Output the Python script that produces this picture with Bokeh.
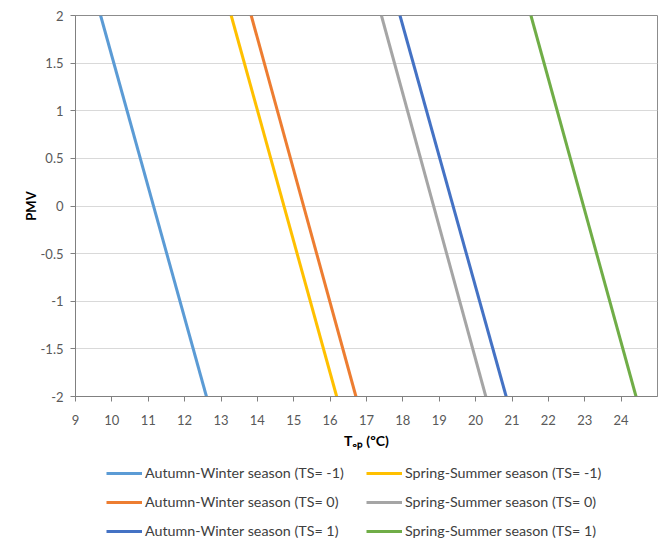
from bokeh.plotting import figure
from bokeh.layouts import column
from bokeh.models import Legend, LegendItem, FixedTicker, Range1d
from bokeh.embed import file_html
from bokeh.resources import INLINE

# ---- data ----
pmv = [2, -2]
aw_m1 = [9.69, 12.60]
aw_0 = [13.83, 16.71]
aw_p1 = [17.92, 20.84]
ss_m1 = [13.28, 16.18]
ss_0 = [17.41, 20.28]
ss_p1 = [21.52, 24.41]

aw_labels = ["Autumn-Winter season (TS= -1)", "Autumn-Winter season (TS= 0)", "Autumn-Winter season (TS= 1)"]
ss_labels = ["Spring-Summer season (TS= -1)", "Spring-Summer season (TS= 0)", "Spring-Summer season (TS= 1)"]
aw_colors = ["#5B9BD5", "#ED7D31", "#4472C4"]
ss_colors = ["#FFC000", "#A5A5A5", "#70AD47"]

x_ticks = list(range(9, 25))
y_ticks = [-2, -1.5, -1, -0.5, 0, 0.5, 1, 1.5, 2]
y_tick_labels = ["-2", "-1.5", "-1", "-0.5", "0", "0.5", "1", "1.5", "2"]

FONT = "Lato"

p = figure(width=658, height=451, output_backend="svg", toolbar_location=None,
           x_range=Range1d(9, 25), y_range=Range1d(-2, 2),
           min_border_left=75, min_border_right=1, min_border_top=15, min_border_bottom=55)
p.background_fill_color = "white"
p.border_fill_color = "white"
p.outline_line_color = "#8C8C8C"
p.outline_line_width = 1

p.xgrid.visible = False
p.ygrid.grid_line_color = "#D9D9D9"
p.ygrid.grid_line_width = 1

p.xaxis.ticker = FixedTicker(ticks=x_ticks)
p.yaxis.ticker = FixedTicker(ticks=y_ticks)
p.yaxis.major_label_overrides = {t: l for t, l in zip(y_ticks, y_tick_labels)}
for ax in (p.xaxis, p.yaxis):
    ax.axis_line_color = "#808080"
    ax.major_tick_line_color = "#808080"
    ax.major_tick_in = 0
    ax.major_tick_out = 5
    ax.minor_tick_line_color = None
    ax.major_label_text_font = FONT
    ax.major_label_text_font_size = "13px"
    ax.major_label_text_color = "#595959"
    ax.axis_label_text_font = FONT
    ax.axis_label_text_font_style = "bold"
    ax.axis_label_text_color = "#000000"
p.xaxis.major_label_standoff = 13
p.yaxis.major_label_standoff = 7

p.yaxis.axis_label = "PMV"
p.yaxis.axis_label_text_font_size = "13px"
p.yaxis.axis_label_standoff = -1

p.xaxis.axis_label = "Tₒₚ (ºC)"
p.xaxis.axis_label_text_font_size = "14px"
p.xaxis.axis_label_standoff = 4

series = [aw_m1, aw_0, aw_p1, ss_m1, ss_0, ss_p1]
colors = aw_colors + ss_colors
for xs, c in zip(series, colors):
    p.line(xs, pmv, line_color=c, line_width=3)

# ---- legend panel (separate figure below the chart; its lines fall outside its view) ----
q = figure(width=658, height=90, output_backend="svg", toolbar_location=None,
           x_axis_type=None, y_axis_type=None, x_range=Range1d(0, 1), y_range=Range1d(0, 1),
           min_border=0)
q.outline_line_color = None
q.grid.visible = False
q.background_fill_color = "white"
q.border_fill_color = "white"

leg_rs = [q.line(xs, pmv, line_color=c, line_width=3) for xs, c in zip(series, colors)]
items = [LegendItem(label=l, renderers=[r]) for l, r in zip(aw_labels + ss_labels, leg_rs)]
legend = Legend(items=items, location=(31, 2), orientation="vertical", nrows=3, ncols=2,
                glyph_width=36, glyph_height=16, label_height=16, label_width=209,
                label_standoff=3, spacing=12, padding=0, margin=0,
                label_text_font=FONT, label_text_font_size="14.3px", label_text_color="#404040",
                border_line_alpha=0, background_fill_alpha=0)
q.add_layout(legend, "center")

layout = column(p, q, spacing=0)
open("out.html", "w").write(file_html(layout, INLINE))
